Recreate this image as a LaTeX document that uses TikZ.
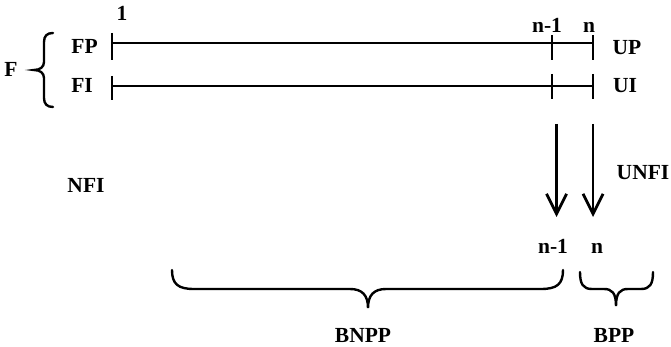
\documentclass[tikz,border=0pt]{standalone}
\usepackage{fontspec}
\setmainfont{Liberation Serif}
\usetikzlibrary{arrows.meta}
\tikzset{
  lbl/.style={font=\fontsize{21.5}{21.5}\selectfont\bfseries, inner sep=0pt, anchor=base},
  rule/.style={line width=2.8pt},
  tick/.style={line width=2.8pt},
  brc/.style={line width=2.4pt, line cap=round},
  arr/.style={line width=2.8pt, -{Straight Barb[length=20pt,width=20pt,line width=2.8pt]}}
}
\begin{document}
\begin{tikzpicture}[x=1pt,y=-1pt]
\useasboundingbox (0,0) rectangle (671,347);
% labels
\node[lbl] (one) at (122,21) {1};
\node[lbl] (tn1) at (547,33) {n-1};
\node[lbl] (tn) at (589,33) {n};
\node[lbl] (F) at (11,77) {F};
\node[lbl] (FP) at (84.5,54) {FP};
\node[lbl] (FI) at (82,93) {FI};
\node[lbl] (UP) at (627,55) {UP};
\node[lbl] (UI) at (625,93) {UI};
\node[lbl] (UNFI) at (643,180) {UNFI};
\node[lbl] (NFI) at (86,193) {NFI};
\node[lbl] (bn1) at (553,253) {n-1};
\node[lbl] (bn) at (597,253) {n};
\node[lbl] (BNPP) at (363,342) {BNPP};
\node[lbl] (BPP) at (614,342) {BPP};
% coordinates
\coordinate (p1) at (112,43);
\coordinate (pn) at (593,43);
\coordinate (i1) at (112,86);
\coordinate (in) at (593,86);
% lines
\draw[rule] (p1) -- (pn);
\draw[rule] (i1) -- (in);
% ticks FP
\draw[tick] (112,33) -- (112,60);
\draw[tick] (552,35) -- (552,60);
\draw[tick] (593,35) -- (593,60);
% ticks FI
\draw[tick] (112,76) -- (112,100);
\draw[tick] (552,74) -- (552,99);
\draw[tick] (593,74) -- (593,99);
% arrows
\coordinate (a1s) at (556.5,124);
\coordinate (a1e) at (556.5,217);
\coordinate (a2s) at (593,124);
\coordinate (a2e) at (593,217);
\draw[arr] (a1s) -- (a1e);
\draw[arr] (a2s) -- (a2e);
% left brace
\draw[brc] (53,33) .. controls (47,33) and (44,36) .. (44,42) -- (44,62)
  .. controls (44,67) and (40,70) .. (34,70)
  .. controls (40,70) and (44,73) .. (44,78) -- (44,98)
  .. controls (44,104) and (47,107) .. (53,107);
% BNPP brace
\draw[brc] (172,270) .. controls (172,284) and (178,289) .. (194,289) -- (350,289)
  .. controls (362,289) and (368,295) .. (368,308)
  .. controls (368,295) and (374,289) .. (386,289) -- (541,289)
  .. controls (557,289) and (563,284) .. (563,270);
% BPP brace
\draw[brc] (580,272) .. controls (580,284) and (583,289) .. (592,289) -- (604,289)
  .. controls (612,289) and (616,293) .. (616,306)
  .. controls (616,293) and (620,289) .. (628,289) -- (641,289)
  .. controls (650,289) and (653,284) .. (653,272);
\end{tikzpicture}
\end{document}
